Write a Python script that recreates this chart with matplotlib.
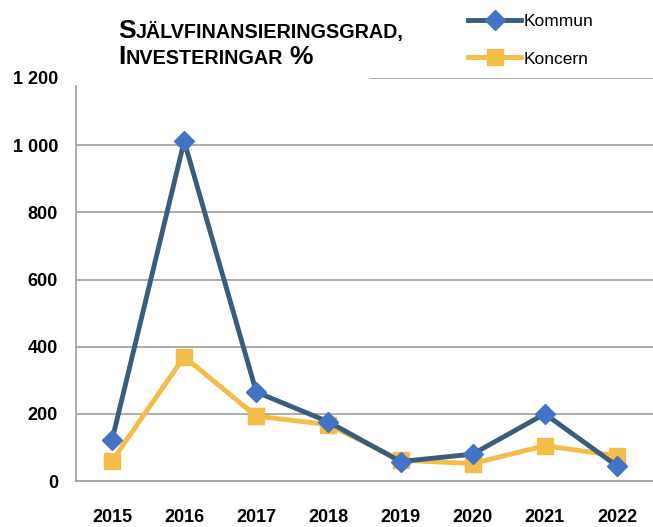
import matplotlib
matplotlib.use('Agg')
import matplotlib.pyplot as plt
from matplotlib.patches import Rectangle

years = ['2015', '2016', '2017', '2018', '2019', '2020', '2021', '2022']
kommun = [122, 1012, 265, 176, 58, 80, 200, 45]
koncern = [60, 370, 193, 168, 62, 52, 105, 75]
yticks = [0, 200, 400, 600, 800, 1000, 1200]
ytick_labels = ['0', '200', '400', '600', '800', '1 000', '1 200']

W, H = 653, 527
fig = plt.figure(figsize=(W / 100, H / 100), dpi=100)
ax = fig.add_axes([76 / W, 46 / H, 1 - 76 / W, (481 - 78) / H])

x = list(range(len(years)))
ax.plot(x, kommun, color='#3A5D7C', lw=3.5, marker='D', ms=10.5,
        mfc='#4472C4', mec='#4472C4', label='Kommun', zorder=3)
ax.plot(x, koncern, color='#F3BD48', lw=3.5, marker='s', ms=11,
        mfc='#F3BD48', mec='#F3BD48', label='Koncern', zorder=2)

ax.set_xlim(-0.5, len(years) - 0.5)
ax.set_ylim(0, 1200)
ax.set_xticks(x)
ax.set_xticklabels(years)
ax.set_yticks(yticks)
ax.set_yticklabels(ytick_labels)
ax.grid(axis='y', color='#A6A6A6', lw=1.3)
ax.set_axisbelow(True)
for s in ['top', 'right']:
    ax.spines[s].set_visible(False)
for s in ['left', 'bottom']:
    ax.spines[s].set_color('#A6A6A6')
    ax.spines[s].set_linewidth(1.3)
ax.tick_params(length=0)
ax.tick_params(axis='x', pad=20)
ax.tick_params(axis='y', pad=13)
for lab in ax.get_xticklabels() + ax.get_yticklabels():
    lab.set_fontfamily('Liberation Sans')
    lab.set_fontweight('bold')
    lab.set_fontsize(13)

# white area behind the title (hides top gridline as in original)
fig.patches.append(Rectangle((70 / W, 1 - 84 / H), 298 / W, 84 / H,
                             transform=fig.transFigure, color='white', zorder=5))


def small_caps(xpx, ypx, words):
    # draw words in small caps, big first letter of each word
    r = fig.canvas.get_renderer()
    xx = xpx
    for w in words:
        t1 = fig.text(xx / W, 1 - ypx / H, w[0], fontsize=19, fontweight='bold',
                      family='Liberation Sans', va='baseline', zorder=6)
        xx += t1.get_window_extent(r).width
        if len(w) > 1:
            t2 = fig.text(xx / W, 1 - ypx / H, w[1:].upper(), fontsize=14.2,
                          fontweight='bold', family='Liberation Sans',
                          va='baseline', zorder=6)
            xx += t2.get_window_extent(r).width
        xx += 7


small_caps(118, 38, ['Självfinansieringsgrad,'])
small_caps(118, 64, ['Investeringar', '%'])

fig.legend(loc='upper left', bbox_to_anchor=(452 / W, 1 + 2 / H), frameon=False,
           prop={'family': 'Liberation Sans', 'size': 12.5},
           handlelength=3.1, handletextpad=0.1, labelspacing=1.3)

fig.savefig('out.png', dpi=100)
